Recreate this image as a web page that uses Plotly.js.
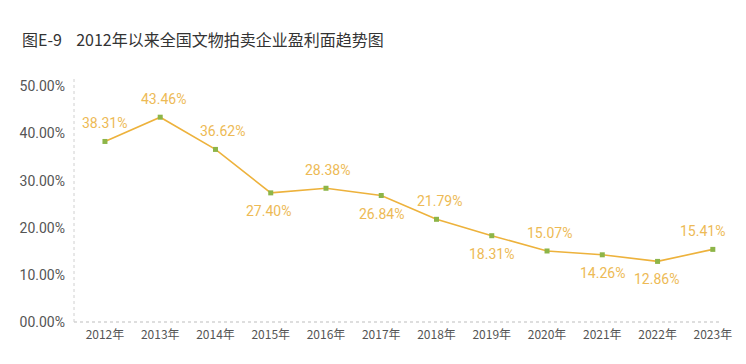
<!DOCTYPE html>
<html>
<head>
<meta charset="utf-8">
<script src="https://cdn.plot.ly/plotly-3.0.1.min.js"></script>
<style>html,body{margin:0;padding:0;background:#fff;}#chart{width:746px;height:364px;}</style>
</head>
<body>
<div id="chart"></div>
<script>
const years = ['2012年','2013年','2014年','2015年','2016年','2017年','2018年','2019年','2020年','2021年','2022年','2023年'];
const profitShare = [38.31, 43.46, 36.62, 27.40, 28.38, 26.84, 21.79, 18.31, 15.07, 14.26, 12.86, 15.41];
const labelSide = ['above','above','above','below','above','below','above','below','above','below','below','above'];
const yTickVals = [0, 10, 20, 30, 40, 50];
const yTickText = ['00.00%','10.00%','20.00%','30.00%','40.00%','50.00%'];
const titleText = '图E-9\u00a0\u00a0\u00a0 2012年以来全国文物拍卖企业盈利面趋势图';

// label horizontal nudges (pixels), styling only
const labelDx = [0, 3, 7, -2, 2, 0, 3, 0, 2, 0, -1, -10];

const fontCJK = '"Noto Sans CJK SC", "Noto Sans", sans-serif';
const fontNum = 'Roboto, "Noto Sans", sans-serif';

const trace = {
  type: 'scatter',
  mode: 'lines+markers',
  x: years,
  y: profitShare,
  line: {color: '#EDB23C', width: 1.6},
  marker: {color: '#8DB548', size: 5, symbol: 'square'},
  hoverinfo: 'skip',
  cliponaxis: false
};

const annotations = years.map((yr, i) => ({
  x: yr, y: profitShare[i], xref: 'x', yref: 'y',
  text: profitShare[i].toFixed(2) + '%',
  showarrow: false,
  yshift: labelSide[i] === 'above' ? 18 : -18,
  xshift: labelDx[i],
  font: {family: fontNum, size: 14, color: '#EDBA55'}
}));

const layout = {
  width: 746, height: 364,
  margin: {l: 74, r: 26, t: 76, b: 42},
  paper_bgcolor: '#fff', plot_bgcolor: '#fff',
  showlegend: false,
  title: {
    text: titleText,
    x: 22 / 746, xref: 'container', xanchor: 'left',
    y: 1 - 40 / 364, yref: 'container', yanchor: 'middle',
    font: {family: fontCJK, size: 16, color: '#333'}
  },
  xaxis: {
    type: 'category',
    range: [-0.56, 11.13],
    showgrid: false, zeroline: false, showline: false,
    ticks: '', ticklabelstandoff: 4,
    tickfont: {family: fontCJK, size: 12, color: '#555'}
  },
  yaxis: {
    range: [0, 52.2],
    tickvals: yTickVals, ticktext: yTickText,
    showgrid: false, zeroline: false, showline: false,
    ticks: '', ticklabelstandoff: 8,
    tickfont: {family: fontNum, size: 14, color: '#555'}
  },
  shapes: [
    {type: 'line', xref: 'paper', yref: 'paper', x0: 0, x1: 1, y0: 0, y1: 0,
     line: {color: '#BDBDBD', width: 1, dash: 'dot'}},
    {type: 'line', xref: 'paper', yref: 'paper', x0: 0, x1: 0, y0: 0, y1: 1,
     line: {color: '#D0D0D0', width: 1, dash: 'dot'}}
  ],
  annotations: annotations
};

Plotly.newPlot('chart', [trace], layout, {staticPlot: true, displayModeBar: false});
</script>
</body>
</html>
